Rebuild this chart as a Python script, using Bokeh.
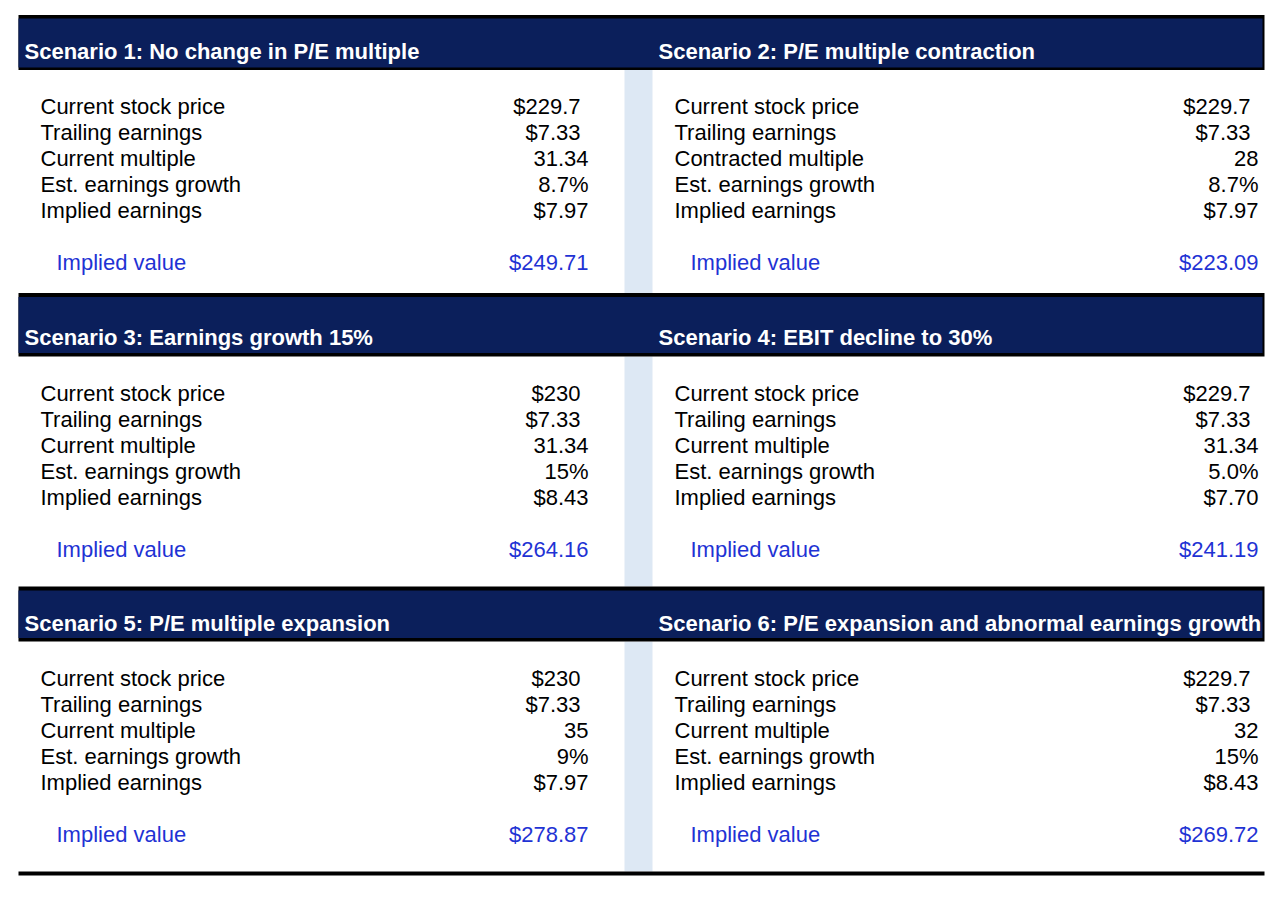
from bokeh.plotting import figure
from bokeh.models import Range1d
from bokeh.core.properties import value
from bokeh.embed import file_html
from bokeh.resources import INLINE

# ---------------- data ----------------
scenario_titles = [
    "Scenario 1: No change in P/E multiple",
    "Scenario 2: P/E multiple contraction",
    "Scenario 3: Earnings growth 15%",
    "Scenario 4: EBIT decline to 30%",
    "Scenario 5: P/E multiple expansion",
    "Scenario 6: P/E expansion and abnormal earnings growth",
]
multiple_labels = ["Current multiple", "Contracted multiple", "Current multiple",
                   "Current multiple", "Current multiple", "Current multiple"]
stock_price = ["$229.7", "$229.7", "$230", "$229.7", "$230", "$229.7"]
trailing_earnings = ["$7.33", "$7.33", "$7.33", "$7.33", "$7.33", "$7.33"]
pe_multiple = ["31.34", "28", "31.34", "31.34", "35", "32"]
earnings_growth = ["8.7%", "8.7%", "15%", "5.0%", "9%", "15%"]
implied_earnings = ["$7.97", "$7.97", "$8.43", "$7.70", "$7.97", "$8.43"]
implied_value = ["$249.71", "$223.09", "$264.16", "$241.19", "$278.87", "$269.72"]
implied_label = "Implied value"

# ---------------- styling / layout ----------------
W, H = 1272, 889
NAVY = "#0b1f5b"
STRIPE = "#dde8f4"
BLUE = "#1f33d4"
FONT = value("Liberation Sans")

p = figure(width=W, height=H, output_backend="svg", toolbar_location=None,
           x_range=Range1d(0, W), y_range=Range1d(H, 0),
           x_axis_type=None, y_axis_type=None, min_border=0)
p.grid.visible = False
p.outline_line_color = None
p.background_fill_color = "white"
p.border_fill_color = "white"

block_top = [14.5, 292.5, 586]       # top black rule
navy_top = [18, 296.5, 590]
navy_bot = [67, 352.5, 637.5]
rule_bot = [69.5, 356, 641]
header_base = [51, 337, 623]
row_base0 = [106, 393, 678]
ROW = 26

# light-blue separator stripes
p.quad(left=[624] * 3, right=[652] * 3, top=rule_bot, bottom=[292.5, 586, 871],
       fill_color=STRIPE, line_color=None)

# black rules and navy bands
p.quad(left=[18] * 3, right=[1264] * 3, top=block_top, bottom=rule_bot,
       fill_color="black", line_color=None)
p.quad(left=[18] * 3, right=[1262] * 3, top=navy_top, bottom=navy_bot,
       fill_color=NAVY, line_color=None)
# bottom rule
p.quad(left=[18], right=[1264], top=[871], bottom=[875],
       fill_color="black", line_color=None)

hx, hy = [], []
lab_x, lab_y, lab_t = [], [], []
val_x, val_y, val_t = [], [], []
iv_lx, iv_ly, iv_lt = [], [], []
iv_vx, iv_vy, iv_vt = [], [], []

for i, title in enumerate(scenario_titles):
    blk, col = i // 2, i % 2
    off = 0 if col == 0 else 634
    right_edge = 588 if col == 0 else 1258
    hx.append(24 + off)
    hy.append(header_base[blk])
    labels = ["Current stock price", "Trailing earnings", multiple_labels[i],
              "Est. earnings growth", "Implied earnings"]
    vals = [stock_price[i], trailing_earnings[i], pe_multiple[i],
            earnings_growth[i], implied_earnings[i]]
    for r in range(5):
        y = row_base0[blk] + r * ROW
        lab_x.append(40 + off); lab_y.append(y); lab_t.append(labels[r])
        pad = 8 if r < 2 else 0
        val_x.append(right_edge - pad); val_y.append(y); val_t.append(vals[r])
    y = row_base0[blk] + 6 * ROW
    iv_lx.append(56 + off); iv_ly.append(y); iv_lt.append(implied_label)
    iv_vx.append(right_edge); iv_vy.append(y); iv_vt.append(implied_value[i])

p.text(x=hx, y=hy, text=list(scenario_titles), text_color="white",
       text_font=FONT, text_font_size="22px", text_font_style="bold",
       text_align="left", text_baseline="alphabetic")
p.text(x=lab_x, y=lab_y, text=lab_t, text_color="black", text_font=FONT,
       text_font_size="22px", text_align="left", text_baseline="alphabetic")
p.text(x=val_x, y=val_y, text=val_t, text_color="black", text_font=FONT,
       text_font_size="22px", text_align="right", text_baseline="alphabetic")
p.text(x=iv_lx, y=iv_ly, text=iv_lt, text_color=BLUE, text_font=FONT,
       text_font_size="22px", text_align="left", text_baseline="alphabetic")
p.text(x=iv_vx, y=iv_vy, text=iv_vt, text_color=BLUE, text_font=FONT,
       text_font_size="22px", text_align="right", text_baseline="alphabetic")

open("out.html", "w").write(file_html(p, INLINE))
